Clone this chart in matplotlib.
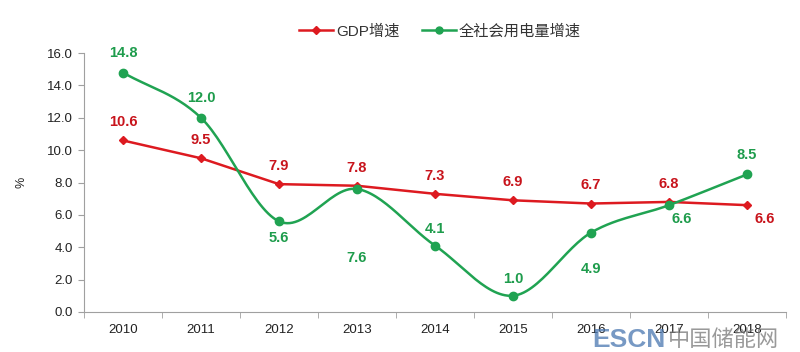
import numpy as np
import matplotlib
matplotlib.use("Agg")
import matplotlib.pyplot as plt
from matplotlib.lines import Line2D

plt.rcParams['font.family'] = ['Liberation Sans', 'Noto Sans CJK SC', 'DejaVu Sans']

years = ['2010', '2011', '2012', '2013', '2014', '2015', '2016', '2017', '2018']
gdp = [10.6, 9.5, 7.9, 7.8, 7.3, 6.9, 6.7, 6.8, 6.6]
power = [14.8, 12.0, 5.6, 7.6, 4.1, 1.0, 4.9, 6.6, 8.5]

red = '#dd1a20'
green = '#20a352'
red_txt = '#c8141c'
green_txt = '#1e9c4c'


def smooth(xs, ys, n=30):
    # catmull-rom, like excel's smoothed line
    xs = np.asarray(xs, float)
    ys = np.asarray(ys, float)
    px = np.concatenate([[2 * xs[0] - xs[1]], xs, [2 * xs[-1] - xs[-2]]])
    py = np.concatenate([[2 * ys[0] - ys[1]], ys, [2 * ys[-1] - ys[-2]]])
    outx, outy = [], []
    t = np.linspace(0, 1, n)
    for i in range(1, len(px) - 2):
        for p, out in ((px, outx), (py, outy)):
            p0, p1, p2, p3 = p[i - 1], p[i], p[i + 1], p[i + 2]
            out.extend(0.5 * (2 * p1 + (-p0 + p2) * t
                              + (2 * p0 - 5 * p1 + 4 * p2 - p3) * t ** 2
                              + (-p0 + 3 * p1 - 3 * p2 + p3) * t ** 3))
    return outx, outy


fig = plt.figure(figsize=(8, 3.52), dpi=100)
ax = fig.add_axes([0.105, 0.114, 0.8775, 0.735])

x = np.arange(len(years))
ax.plot(x, gdp, color=red, lw=1.8, marker='D', ms=4, zorder=3)
sx, sy = smooth(x, power)
ax.plot(sx, sy, color=green, lw=1.8, zorder=3)
ax.plot(x, power, ls='none', color=green, marker='o', ms=6, zorder=4)

# label offsets in points
gdp_off = [(0, 13), (0, 13), (0, 13), (0, 13), (0, 13), (0, 13), (0, 13), (0, 13), (13, -10)]
power_off = [(0, 14), (0, 14), (0, -12), (0, -50), (0, 12), (0, 12), (0, -26), (9, -10), (0, 14)]
for i in range(len(years)):
    ax.annotate(f'{gdp[i]:.1f}', (x[i], gdp[i]), xytext=gdp_off[i], textcoords='offset points',
                ha='center', va='center', color=red_txt, fontsize=10.5, fontweight='bold')
    ax.annotate(f'{power[i]:.1f}', (x[i], power[i]), xytext=power_off[i], textcoords='offset points',
                ha='center', va='center', color=green_txt, fontsize=10.5, fontweight='bold')

ax.set_xlim(-0.5, len(years) - 0.5)
ax.set_ylim(0, 16)
ax.set_yticks(np.arange(0, 16.1, 2))
ax.set_yticklabels([f'{v:.1f}' for v in np.arange(0, 16.1, 2)])
ax.set_xticks(x)
ax.set_xticklabels(years)
ax.set_xticks(np.arange(-0.5, len(years), 1), minor=True)
ax.tick_params(axis='x', which='major', length=0, pad=9, labelsize=9.5, colors='#222222')
ax.tick_params(axis='x', which='minor', length=4, color='#a0a0a0', direction='out')
ax.tick_params(axis='y', length=4, color='#a0a0a0', labelsize=9.5, labelcolor='#222222', pad=4)
for s in ['top', 'right']:
    ax.spines[s].set_visible(False)
for s in ['left', 'bottom']:
    ax.spines[s].set_color('#a0a0a0')
ax.set_ylabel('%', fontsize=9, color='#222222', labelpad=14)

handles = [Line2D([], [], color=red, marker='D', ms=4, lw=1.8),
           Line2D([], [], color=green, marker='o', ms=5, lw=1.8)]
ax.legend(handles, ['GDP增速', '全社会用电量增速'], loc='center', bbox_to_anchor=(0.507, 1.085),
          ncol=2, frameon=False, fontsize=11, handlelength=2.2, handletextpad=0.2,
          columnspacing=1.5, labelcolor='#333333')

# watermark
fig.text(0.74, 0.035, 'ESCN', fontsize=19, fontweight='bold', color='#4a77b0', alpha=0.75,
         ha='left', va='center')
fig.text(0.835, 0.035, '中国储能网', fontsize=16, color='#777777', alpha=0.75,
         ha='left', va='center', family=['Noto Sans CJK SC'])

fig.savefig('out.png', dpi=100)
